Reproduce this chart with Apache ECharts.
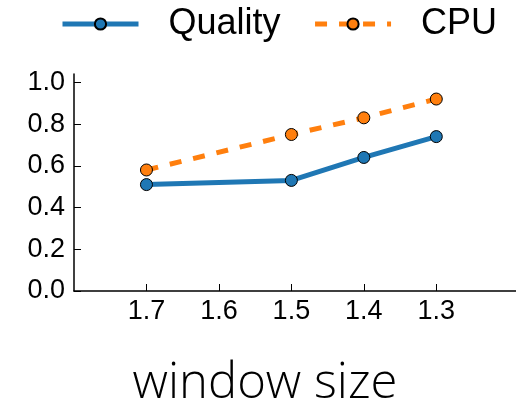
<!DOCTYPE html>
<html><head><meta charset="utf-8">
<script src="https://cdn.jsdelivr.net/npm/echarts@6/dist/echarts.min.js"></script>
<style>html,body{margin:0;padding:0;background:#fff}#c{width:516px;height:404px}</style>
</head><body><div id="c"></div>
<script>
const windowSize = [1.7, 1.5, 1.4, 1.3];
const quality = [0.51, 0.53, 0.64, 0.74];
const cpu = [0.58, 0.75, 0.83, 0.92];
const xTicks = [1.7, 1.6, 1.5, 1.4, 1.3];
const yTicks = [0.0, 0.2, 0.4, 0.6, 0.8, 1.0];

const chart = echarts.init(document.getElementById('c'), null, {renderer: 'canvas'});
const tickFont = {fontFamily: 'Liberation Sans, Arial, sans-serif', fontSize: 27, color: '#000'};
chart.setOption({
  animation: false,
  backgroundColor: '#fff',
  grid: {left: 74, right: 0, top: 74, bottom: 113, containLabel: false, outerBoundsMode: 'none'},
  legend: {
    left: 60, top: 6, padding: 0, itemWidth: 76, itemHeight: 14, itemGap: 32,
    lineStyle: {width: 5},
    textStyle: {fontFamily: 'Liberation Sans, Arial, sans-serif', fontSize: 36, color: '#000', padding: [0, 0, 0, 25]},
    data: ['Quality', 'CPU']
  },
  xAxis: {
    type: 'value', inverse: true, min: 1.19, max: 1.8,
    axisLine: {onZero: false, lineStyle: {color: '#000', width: 1.5}},
    axisTick: {inside: true, length: 7, customValues: xTicks, lineStyle: {color: '#000', width: 1}},
    axisLabel: Object.assign({customValues: xTicks, margin: 7, formatter: v => v.toFixed(1)}, tickFont),
    splitLine: {show: false},
    name: 'window size', nameLocation: 'middle', nameGap: 69,
    nameTextStyle: {fontFamily: 'Open Sans, sans-serif', fontWeight: 300, fontSize: 49, color: '#000', padding: [0, 60, 0, 0]}
  },
  yAxis: {
    type: 'value', min: 0, max: 1.04,
    axisLine: {show: true, lineStyle: {color: '#000', width: 1.5}},
    axisTick: {show: true, inside: true, length: 7, customValues: yTicks, lineStyle: {color: '#000', width: 1}},
    axisLabel: Object.assign({customValues: yTicks, margin: 9, formatter: v => v.toFixed(1)}, tickFont),
    splitLine: {show: false}
  },
  series: [
    {name: 'Quality', type: 'line', data: windowSize.map((x, i) => [x, quality[i]]),
     symbol: 'circle', symbolSize: 12,
     lineStyle: {color: '#1f77b4', width: 5},
     itemStyle: {color: '#1f77b4', borderColor: '#000', borderWidth: 1}},
    {name: 'CPU', type: 'line', data: windowSize.map((x, i) => [x, cpu[i]]),
     symbol: 'circle', symbolSize: 12,
     lineStyle: {color: '#ff7f0e', width: 5, type: [12, 12], cap: 'butt'},
     itemStyle: {color: '#ff7f0e', borderColor: '#000', borderWidth: 1}}
  ]
});
</script></body></html>
